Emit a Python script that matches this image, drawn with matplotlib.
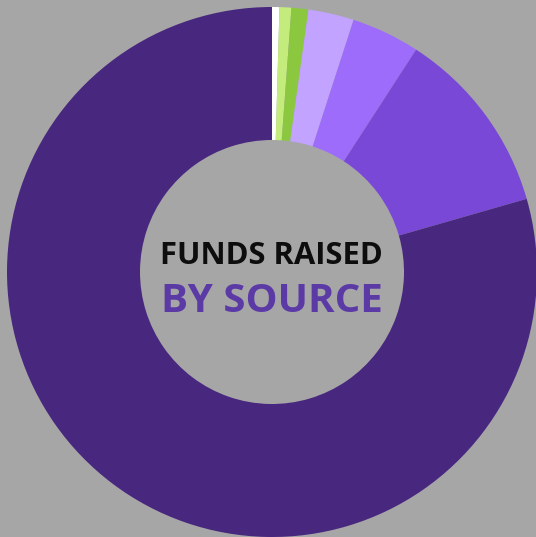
import matplotlib.pyplot as plt

sources = ['Other', 'Source F', 'Source E', 'Source D', 'Source C', 'Source B', 'Source A']
shares = [0.45, 0.72, 1.03, 2.78, 4.17, 11.4, 79.45]
colors = ['#ffffff', '#c4ec7c', '#8cc83f', '#c2a3ff', '#9d6cfa', '#7a48d7', '#48277f']

bg = '#a6a6a6'

fig = plt.figure(figsize=(5.36, 5.37), dpi=100)
fig.patch.set_facecolor(bg)
ax = fig.add_axes([0, 0, 1, 1])
ax.set_facecolor(bg)

ax.pie(shares, colors=colors, startangle=90, counterclock=False,
       radius=265, center=(272, 265),
       wedgeprops=dict(width=133, linewidth=0))

ax.set_xlim(0, 536)
ax.set_ylim(0, 537)
ax.set_aspect('equal')
ax.axis('off')

ax.text(271, 281, 'FUNDS RAISED', ha='center', va='center', fontsize=22.3,
        fontweight='bold', family='Open Sans', color='#0d0d0d')
ax.text(272, 235, 'BY SOURCE', ha='center', va='center', fontsize=29,
        fontweight='bold', family='Open Sans', color='#5b3aa6')

fig.savefig('out.png', dpi=100, facecolor=bg)
